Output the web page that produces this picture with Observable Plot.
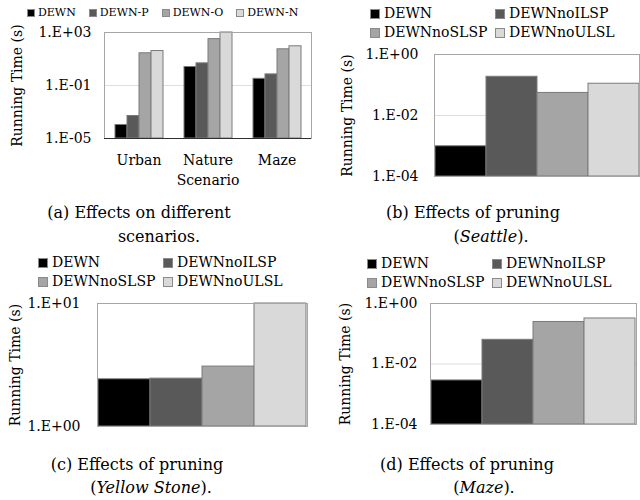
<!DOCTYPE html>
<html><head><meta charset="utf-8">
<script src="https://cdn.jsdelivr.net/npm/d3@7"></script>
<script src="https://cdn.jsdelivr.net/npm/@observablehq/plot@0.6"></script>
<style>
body{margin:0;background:#fff;}
#fig{position:relative;width:640px;height:500px;overflow:hidden;font-family:"DejaVu Serif",serif;color:#000;}
.legA{position:absolute;display:flex;gap:13px;font-size:11px;line-height:14px;white-space:nowrap;}
.legA .it{display:flex;align-items:center;gap:3px;}
.legA .sw{width:8px;height:8px;box-sizing:border-box;border:1px solid #8a8a8a;display:inline-block;}
.leg{position:absolute;display:grid;grid-template-columns:125px 125px;font-size:14px;line-height:19px;white-space:nowrap;}
.leg .it{display:flex;align-items:center;gap:4px;}
.leg .sw{width:10px;height:10px;box-sizing:border-box;border:1px solid #8a8a8a;display:inline-block;}
.cap{position:absolute;width:300px;text-align:center;font-size:16px;line-height:18px;white-space:nowrap;}
</style></head><body><div id="fig"></div><script>
// ---------- data ----------
const scenarios = ["Urban", "Nature Scenario", "Maze"];
const seriesA = ["DEWN", "DEWN-P", "DEWN-O", "DEWN-N"];
const timeDEWN  = [1.05e-4, 2.5, 0.32];
const timeDEWNP = [5e-4, 4.7, 0.69];
const timeDEWNO = [27, 316, 54];
const timeDEWNN = [40, 1000, 91];
const valuesA = [timeDEWN, timeDEWNP, timeDEWNO, timeDEWNN];

const variants = ["DEWN", "DEWNnoILSP", "DEWNnoSLSP", "DEWNnoULSL"];
const timeSeattle = [0.00098, 0.186, 0.055, 0.11];
const timeYellowStone = [2.42, 2.45, 3.07, 10];
const timeMaze = [0.00286, 0.063, 0.245, 0.32];

const colors = ["#000000", "#595959", "#a5a5a5", "#d9d9d9"];

const ticksA = [1e-5, 1e-1, 1e3];
const tickLabelsA = ["1.E-05", "1.E-01", "1.E+03"];
const ticksBD = [1e-4, 1e-2, 1];
const tickLabelsBD = ["1.E-04", "1.E-02", "1.E+00"];
const ticksC = [1, 10];
const tickLabelsC = ["1.E+00", "1.E+01"];

const yLabel = "Running Time (s)";
// ---------- layout ----------
const fig = document.getElementById("fig");
const baseStyle = {fontFamily: "DejaVu Serif", fontSize: "14px", background: "transparent", overflow: "visible", color: "#000"};

function place(el, left, top) {
  el.style.position = "absolute";
  el.style.left = left + "px";
  el.style.top = top + "px";
  fig.appendChild(el);
}

function legend(names, cls, left, top) {
  const d = document.createElement("div");
  d.className = cls;
  names.forEach((n, i) => {
    const it = document.createElement("div");
    it.className = "it";
    const sw = document.createElement("span");
    sw.className = "sw";
    sw.style.background = colors[i];
    const t = document.createElement("span");
    t.textContent = n;
    it.appendChild(sw); it.appendChild(t);
    d.appendChild(it);
  });
  d.style.left = left + "px"; d.style.top = top + "px";
  fig.appendChild(d);
}

function caption(html, cx, cy) {
  const d = document.createElement("div");
  d.className = "cap";
  d.innerHTML = html;
  d.style.left = (cx - 150) + "px";
  d.style.top = (cy - 9) + "px";
  fig.appendChild(d);
}

// ---------- panel (a) ----------
const dataA = scenarios.flatMap((s, j) => seriesA.map((k, i) => ({scenario: s, series: k, time: valuesA[i][j]})));
function panelA(superFrame) {
  return Plot.plot({
    width: 320, height: 200,
    marginLeft: 104, marginRight: 9, marginTop: 32, marginBottom: 62,
    style: baseStyle,
    fx: {domain: scenarios, padding: 0, axis: null, label: null},
    x: {domain: seriesA, paddingInner: 0, paddingOuter: 0.735, axis: null},
    y: {type: "log", domain: [1e-5, 1e3], axis: null},
    color: {domain: seriesA, range: colors},
    marks: [
      Plot.ruleY([1e-1], {stroke: "#dedede"}),
      Plot.barY(dataA, {fx: "scenario", x: "series", y1: 1e-5, y2: "time", fill: "series", stroke: "#7a7a7a", strokeWidth: 1}),
      superFrame ? Plot.frame({stroke: "#a6a6a6", facet: "super"}) : Plot.ruleY([1e3], {stroke: "#a6a6a6"}),
      Plot.ruleY([1e-5], {stroke: "#303030"}),
      Plot.axisY(ticksA, {anchor: "left", tickSize: 0, tickPadding: 13, tickFormat: d => tickLabelsA[ticksA.indexOf(d)], label: yLabel, labelArrow: "none", labelAnchor: "center", labelOffset: 92}),
      Plot.axisFx({anchor: "bottom", tickSize: 0, tickPadding: 12, tickFormat: d => d.replace(" ", "\n"), lineHeight: 1.43, label: null})
    ]
  });
}
let svgA;
try { svgA = panelA(true); } catch (e) { svgA = panelA(false); }
place(svgA, 0, 0);
legend(seriesA, "legA", 27, 6);
caption("(a) Effects on different", 139, 213);
caption("scenarios.", 159, 237);

// ---------- pruning panels ----------
function pruningPanel({values, ticks, tickLabels, marginLeft, marginRight, marginTop, marginBottom, tickPadding, labelOffset}) {
  const data = variants.map((v, i) => ({variant: v, time: values[i]}));
  return Plot.plot({
    width: 320, height: 200,
    marginLeft, marginRight, marginTop, marginBottom,
    style: baseStyle,
    x: {domain: variants, padding: 0, axis: null},
    y: {type: "log", domain: [ticks[0], ticks[ticks.length - 1]], axis: null},
    color: {domain: variants, range: colors},
    marks: [
      Plot.ruleY(ticks.slice(1, -1), {stroke: "#dedede"}),
      Plot.barY(data, {x: "variant", y1: ticks[0], y2: "time", fill: "variant", stroke: "#7a7a7a", strokeWidth: 1}),
      Plot.frame({stroke: "#a6a6a6"}),
      Plot.axisY(ticks, {anchor: "left", tickSize: 0, tickPadding, tickFormat: d => tickLabels[ticks.indexOf(d)], label: yLabel, labelArrow: "none", labelAnchor: "center", labelOffset})
    ]
  });
}

place(pruningPanel({values: timeSeattle, ticks: ticksBD, tickLabels: tickLabelsBD,
  marginLeft: 114, marginRight: 1, marginTop: 54, marginBottom: 24, tickPadding: 16, labelOffset: 92}), 320, 0);
legend(variants, "leg", 370, 4);
caption("(b) Effects of pruning", 473, 213);
caption("(<i>Seattle</i>).", 491, 237);

place(pruningPanel({values: timeYellowStone, ticks: ticksC, tickLabels: tickLabelsC,
  marginLeft: 97, marginRight: 13, marginTop: 53, marginBottom: 24, tickPadding: 17, labelOffset: 87}), 0, 250);
legend(variants, "leg", 38, 253);
caption("(c) Effects of pruning", 137, 465);
caption("(<i>Yellow Stone</i>).", 151, 488);

place(pruningPanel({values: timeMaze, ticks: ticksBD, tickLabels: tickLabelsBD,
  marginLeft: 110, marginRight: 4, marginTop: 53, marginBottom: 26, tickPadding: 13, labelOffset: 90}), 320, 250);
legend(variants, "leg", 367, 254);
caption("(d) Effects of pruning", 467, 465);
caption("(<i>Maze</i>).", 484, 488);
</script></body></html>
